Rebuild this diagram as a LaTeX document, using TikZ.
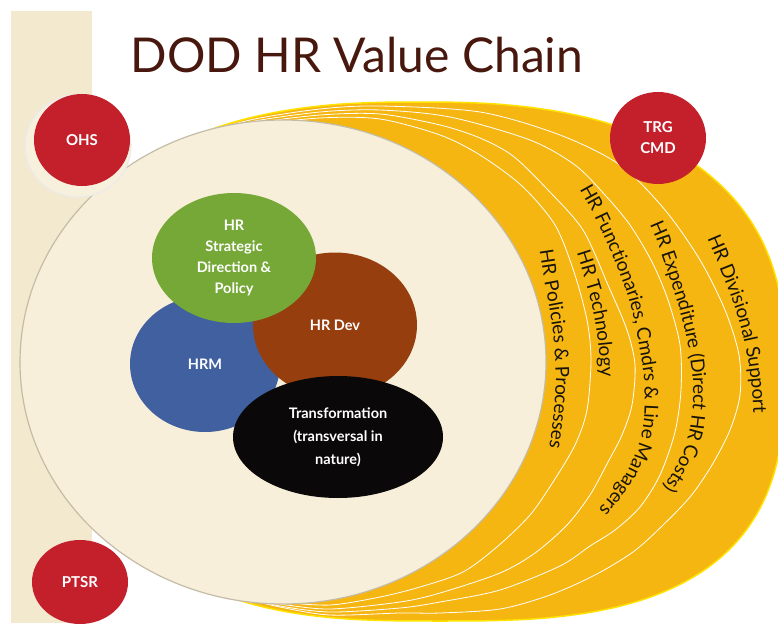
\documentclass[tikz,border=0pt]{standalone}
\usepackage{fontspec}
\setmainfont{Lato}
\usetikzlibrary{shapes.geometric,decorations.text}
\definecolor{stripc}{RGB}{243,233,206}
\definecolor{cream}{RGB}{247,239,217}
\definecolor{creamedge}{RGB}{196,188,166}
\definecolor{gold}{RGB}{246,182,18}
\definecolor{goldedge}{RGB}{255,226,0}
\definecolor{crimson}{RGB}{196,32,44}
\definecolor{leaf}{RGB}{118,168,56}
\definecolor{rust}{RGB}{150,62,14}
\definecolor{navy}{RGB}{64,96,160}
\definecolor{ink}{RGB}{10,8,8}
\definecolor{titlec}{RGB}{72,24,14}
\definecolor{ringink}{RGB}{25,20,10}
\newcommand{\ringfont}{\fontsize{19}{20}\selectfont}
\tikzset{
  redc/.style={ellipse, fill=crimson, minimum width=96pt, minimum height=92pt, text=white,
    font=\bfseries\fontsize{15}{21}\selectfont, align=center, inner sep=0pt},
  blob/.style={ellipse, text=white, font=\bfseries\fontsize{14.5}{21}\selectfont, align=center, inner sep=0pt},
  ringfill/.style={fill=gold, draw=white, line width=0.8pt},
  ringtext/.style={decorate, decoration={text along path, text align=center, raise=-6pt,
    text={#1}}},
}
\begin{document}
\begin{tikzpicture}[x=1pt,y=-1pt]
\useasboundingbox (0,0) rectangle (778,623);
\fill[white] (0,0) rectangle (778,623);
% left strip
\fill[stripc] (11,11) rectangle (92,623);
% rings, outermost first
\path[fill=gold, draw=goldedge, line width=1.5pt]
 plot[domain=182.5:357.5, samples=36, smooth]
 ({419+366*sign(cos(\x))*pow(abs(cos(\x)),0.8)}, {363-261*pow(abs(sin(\x)),0.8)})
 -- plot[domain=2.5:177.5, samples=36, smooth]
 ({440+345*sign(cos(\x))*pow(abs(cos(\x)),0.7)}, {363+258*pow(abs(sin(\x)),0.7)}) -- cycle;
\path[ringfill] plot[smooth, tension=0.5] coordinates {
 (160,162) (200,136) (250,120) (320,109) (380,106) (480,112) (560,135) (620,165) (665,210)
 (700,260) (725,310) (739,355) (740,395) (730,430) (712,465) (690,497) (660,528) (633,552)
 (595,575) (550,595) (500,609) (440,613) (400,613) (330,615) (280,607) (240,597)} -- cycle;
\path[ringfill] plot[smooth, tension=0.5] coordinates {
 (160,164) (200,137) (250,122) (320,112) (380,110) (450,117) (530,140) (575,165) (605,195)
 (630,225) (652,262) (668,300) (680,345) (681,390) (675,432) (660,475) (640,507) (615,530)
 (590,546) (560,566) (500,590) (440,602) (400,608) (330,612) (280,606) (240,597)} -- cycle;
\path[ringfill] plot[smooth, tension=0.5] coordinates {
 (160,166) (200,138) (250,124) (320,115) (380,114) (440,125) (480,138) (513,156) (548,190)
 (583,230) (608,285) (627,330) (635,365) (632,405) (622,435) (608,462) (590,495) (567,525)
 (535,553) (500,573) (440,593) (400,602) (330,609) (280,604) (240,597)} -- cycle;
\path[ringfill] plot[smooth, tension=0.5] coordinates {
 (160,168) (200,140) (250,126) (320,118) (380,119) (440,135) (480,155) (522,186) (555,225)
 (574,272) (587,320) (591,360) (587,410) (575,445) (553,482) (530,515) (498,546) (463,572)
 (420,587) (380,597) (330,605) (280,602) (240,597)} -- cycle;
% cream disc
\path[fill=cream, draw=creamedge, line width=1.2pt] (283,362) ellipse [x radius=263pt, y radius=242pt];
% ring labels (y upwards inside this scope)
\begin{scope}[y=1pt]
\path[ringtext={|\ringfont\color{ringink}|HR Policies {\&} Processes}]
 (542,-228) -- (546,-253) -- (550,-279) -- (555,-305) -- (559,-331) -- (561,-355) -- (562,-378)
 -- (561,-400) -- (559,-421) -- (556,-443) -- (551,-470);
\path[ringtext={|\ringfont\color{ringink}|HR Technology}]
 (578,-236) -- (585,-258) -- (591,-280) -- (597,-300) -- (601,-320) -- (604,-340) -- (606,-360) -- (608,-392);
\path[ringtext={|\ringfont\color{ringink}|HR Functionaries, Cmdrs {\&} Line Managers}]
 (578,-174) -- (598,-210) -- (613,-242) -- (624,-268) -- (634,-295) -- (641,-322) -- (646,-350)
 -- (650,-375) -- (651,-400) -- (650,-420) -- (647,-440) -- (640,-459) -- (631,-477) -- (617,-497) -- (594,-524);
\path[ringtext={|\ringfont\color{ringink}|HR Expenditure (Direct HR Costs)}]
 (644,-196) -- (663,-240) -- (675,-275) -- (684,-303) -- (691,-330) -- (696,-355) -- (699,-380)
 -- (699,-405) -- (696,-430) -- (690,-452) -- (680,-472) -- (669,-490) -- (652,-515);
\path[ringtext={|\ringfont\color{ringink}|HR Divisional Support}]
 (707,-222) -- (721,-255) -- (733,-285) -- (742,-310) -- (749,-335) -- (754,-358) -- (757,-380)
 -- (759,-400) -- (760,-428);
\end{scope}
% core bubbles
\node[blob, fill=navy, minimum width=150pt, minimum height=136pt] (hrm) at (205,364) {HRM};
\node[blob, fill=rust, minimum width=164pt, minimum height=145pt] (dev) at (335,325) {HR Dev};
\node[blob, fill=leaf, minimum width=164pt, minimum height=130pt] (sdp) at (234,258) {HR\\Strategic\\Direction \&\\Policy};
\node[blob, fill=ink, minimum width=210pt, minimum height=122pt, font=\bfseries\fontsize{14.5}{23}\selectfont] (trans) at (338,437) {Transformation\\(transversal in\\nature)};
% outer red circles
\draw[gray!16, line width=1.2pt, fill=stripc!70!white] (78,146) ellipse [x radius=53pt, y radius=51pt];
\node[redc] (ohs) at (82,140) {OHS};
\node[redc] (trg) at (658,138) {TRG\\CMD};
\node[redc, minimum height=84pt] (ptsr) at (80,582) {PTSR};
% title
\node[anchor=base, font=\fontsize{48}{50}\selectfont, text=titlec, inner sep=0pt] (title) at (357,73) {DOD HR Value Chain};
\end{tikzpicture}
\end{document}
